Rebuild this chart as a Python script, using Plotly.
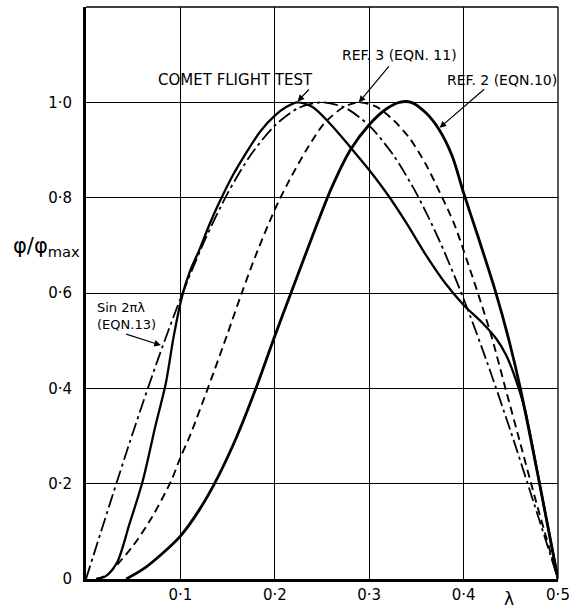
import plotly.graph_objects as go

# ---- data ----
comet_x = [0.011, 0.021, 0.033, 0.046, 0.060, 0.074, 0.0845, 0.093, 0.102, 0.110, 0.120, 0.130,
           0.140, 0.155, 0.170, 0.185, 0.200, 0.212, 0.224, 0.240, 0.260, 0.280, 0.300, 0.320,
           0.340, 0.360, 0.380, 0.400, 0.420, 0.435, 0.445, 0.455, 0.465, 0.480, 0.500]
comet_y = [0.0, 0.006, 0.035, 0.115, 0.205, 0.325, 0.410, 0.510, 0.595, 0.645, 0.690, 0.740,
           0.785, 0.845, 0.895, 0.940, 0.972, 0.990, 1.000, 0.990, 0.952, 0.906, 0.858, 0.805,
           0.745, 0.680, 0.622, 0.575, 0.537, 0.503, 0.470, 0.420, 0.355, 0.205, 0.0]

ref2_x = [0.0426, 0.060, 0.080, 0.100, 0.120, 0.140, 0.160, 0.180, 0.200, 0.220, 0.240,
          0.260, 0.280, 0.300, 0.318, 0.332, 0.3445, 0.360, 0.374, 0.388, 0.400, 0.415,
          0.4335, 0.4474, 0.460, 0.480, 0.500]
ref2_y = [0.0, 0.020, 0.052, 0.090, 0.145, 0.215, 0.300, 0.400, 0.510, 0.615, 0.720,
          0.820, 0.900, 0.953, 0.986, 1.000, 1.000, 0.978, 0.943, 0.887, 0.810, 0.720,
          0.605, 0.506, 0.401, 0.205, 0.0]

ref3_x = [0.011, 0.022, 0.033, 0.050, 0.070, 0.090, 0.100, 0.110, 0.130, 0.150, 0.165, 0.180,
          0.200, 0.215, 0.235, 0.252, 0.273, 0.290, 0.3075, 0.325, 0.3427, 0.360, 0.375,
          0.390, 0.405, 0.420, 0.430, 0.445, 0.460, 0.475, 0.490, 0.500]
ref3_y = [0.0, 0.008, 0.030, 0.070, 0.130, 0.205, 0.255, 0.300, 0.405, 0.515, 0.600, 0.680,
          0.775, 0.835, 0.905, 0.955, 0.990, 1.000, 0.991, 0.964, 0.925, 0.870, 0.810,
          0.745, 0.660, 0.570, 0.506, 0.395, 0.285, 0.175, 0.070, 0.0]

sin_x = [0.0, 0.025, 0.05, 0.075, 0.1, 0.125, 0.15, 0.175, 0.2, 0.225, 0.25, 0.275, 0.3,
         0.325, 0.35, 0.375, 0.4, 0.425, 0.45, 0.475, 0.5]
sin_y = [0.0, 0.156, 0.309, 0.454, 0.588, 0.707, 0.809, 0.891, 0.951, 0.988, 1.0, 0.988, 0.951,
         0.891, 0.809, 0.707, 0.588, 0.454, 0.309, 0.156, 0.0]

x_ticks = [0.1, 0.2, 0.3, 0.4, 0.5]
x_labels = ["0·1", "0·2", "0·3", "0·4", "0·5"]
y_ticks = [0.0, 0.2, 0.4, 0.6, 0.8, 1.0]
y_labels = ["0", "0·2", "0·4", "0·6", "0·8", "1·0"]

FONT = "DejaVu Sans"

fig = go.Figure()
fig.add_trace(go.Scatter(x=sin_x, y=sin_y, mode="lines",
                         line=dict(color="black", width=1.8, dash="14px,4px,3px,4px",
                                   shape="spline", smoothing=0.8)))
fig.add_trace(go.Scatter(x=ref3_x, y=ref3_y, mode="lines",
                         line=dict(color="black", width=1.9, dash="8px,5px",
                                   shape="spline", smoothing=0.8)))
fig.add_trace(go.Scatter(x=comet_x, y=comet_y, mode="lines",
                         line=dict(color="black", width=2.3, shape="spline", smoothing=0.8)))
fig.add_trace(go.Scatter(x=ref2_x, y=ref2_y, mode="lines",
                         line=dict(color="black", width=2.8, shape="spline", smoothing=0.8)))

# borders (top and right thin)
fig.add_shape(type="line", xref="paper", yref="paper", x0=0, x1=1, y0=1, y1=1,
              line=dict(color="black", width=1.3))
fig.add_shape(type="line", xref="paper", yref="paper", x0=1, x1=1, y0=0, y1=1,
              line=dict(color="black", width=1.3))

texts = [
    ("COMET FLIGHT TEST", 0.158, 1.047, "center", 15),
    ("REF. 3 (EQN. 11)", 0.332, 1.099, "center", 14),
    ("REF. 2 (EQN.10)", 0.441, 1.047, "center", 14),
    ("Sin 2πλ<br>(EQN.13)", 0.009, 0.5525, "left", 13),
]
for t, x, y, xa, fs in texts:
    fig.add_annotation(x=x, y=y, text=t, showarrow=False, xanchor=xa, yanchor="middle",
                       align="left", font=dict(family=FONT, size=fs, color="black"))

arrows = [
    (0.2377, 1.030, 0.2241, 1.002),
    (0.3222, 1.0785, 0.289, 1.000),
    (0.4234, 1.030, 0.3746, 0.9467),
    (0.041, 0.5146, 0.0793, 0.4904),
]
for ax, ay, x, y in arrows:
    fig.add_annotation(x=x, y=y, ax=ax, ay=ay, axref="x", ayref="y", xref="x", yref="y",
                       text="", showarrow=True, arrowhead=2, arrowsize=1.1, arrowwidth=1.2,
                       arrowcolor="black")

# axis labels
fig.add_annotation(xref="paper", yref="paper", x=-0.159, y=0.581, xanchor="left",
                   yanchor="middle", showarrow=False,
                   text="φ/φ<sub>max</sub>", font=dict(family=FONT, size=21, color="black"))
fig.add_annotation(xref="paper", yref="paper", x=0.897, y=-0.035, xanchor="center",
                   yanchor="middle", showarrow=False,
                   text="λ", font=dict(family=FONT, size=17, color="black"))

fig.update_xaxes(range=[0, 0.5], tickvals=x_ticks, ticktext=x_labels,
                 showgrid=True, gridcolor="black", gridwidth=1.2, zeroline=False,
                 showline=True, linecolor="black", linewidth=3, ticks="",
                 tickfont=dict(family=FONT, size=15, color="black"))
fig.update_yaxes(range=[0, 1.2], tickvals=y_ticks, ticktext=y_labels,
                 showgrid=True, gridcolor="black", gridwidth=1.2, zeroline=False,
                 showline=True, linecolor="black", linewidth=3, ticks="", ticklabelstandoff=8,
                 tickfont=dict(family=FONT, size=15, color="black"))

fig.update_layout(width=577, height=611, showlegend=False,
                  margin=dict(l=86, r=13, t=7, b=28),
                  plot_bgcolor="white", paper_bgcolor="white")

fig.write_html("out.html")
